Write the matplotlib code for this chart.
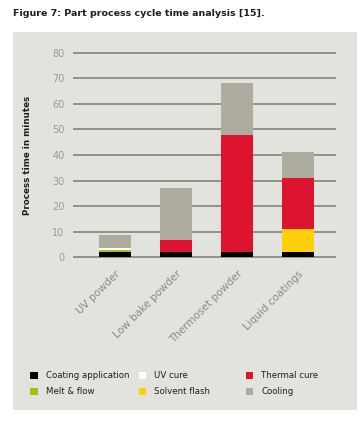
import matplotlib
matplotlib.use("Agg")
import matplotlib.pyplot as plt
from matplotlib.patches import Rectangle
import numpy as np

categories = ["UV powder", "Low bake powder", "Thermoset powder", "Liquid coatings"]
series_names = ["Coating application", "Melt & flow", "UV cure", "Solvent flash", "Thermal cure", "Cooling"]
coating_application = [2, 2, 2, 2]
melt_flow = [1, 0, 0, 0]
uv_cure = [0.6, 0, 0, 0]
solvent_flash = [0, 0, 0, 9]
thermal_cure = [0, 5, 46, 20]
cooling = [5, 20, 20, 10]
yticks = [0, 10, 20, 30, 40, 50, 60, 70, 80]

series_values = [coating_application, melt_flow, uv_cure, solvent_flash, thermal_cure, cooling]
colors = ["#000000", "#a9c012", "#ffffff", "#fdd00c", "#dc1430", "#adac9f"]

W, H = 364, 423
fig = plt.figure(figsize=(W / 100, H / 100), dpi=100)
fig.patch.set_facecolor("white")
fig.add_artist(Rectangle((13 / W, 1 - 410 / H), (357 - 13) / W, (410 - 32) / H,
                         transform=fig.transFigure, facecolor="#e3e3de", edgecolor="none", zorder=0))

fig.text(13 / W, 1 - 13 / H, "Figure 7: Part process cycle time analysis [15].",
         fontsize=6.8, fontweight="bold", color="#1e1e1e", va="center", ha="left")

ax = fig.add_axes([72.7 / W, 1 - 260.06 / H, 263.3 / W, 210.1 / H])
ax.set_facecolor("none")
x = np.arange(len(categories))
bottom = np.zeros(len(categories))
for name, vals, c in zip(series_names, series_values, colors):
    v = np.array(vals, dtype=float)
    ax.bar(x, v, width=0.54, bottom=bottom, color=c, edgecolor="none", zorder=3)
    bottom += v

ax.set_xlim(-0.693, 3.623)
ax.set_ylim(-1, 81)
ax.set_yticks(yticks)
ax.set_yticklabels([str(t) for t in yticks], color="#9a9a94", fontsize=7)
ax.tick_params(axis="y", length=0, pad=6)
ax.yaxis.grid(True, color="#84847c", linewidth=1.2, zorder=1)
ax.set_axisbelow(True)
for s in ax.spines.values():
    s.set_visible(False)
ax.set_xticks(x)
ax.set_xticklabels(categories, rotation=45, ha="right", va="top", rotation_mode="anchor",
                   color="#8a8a86", fontsize=7.5)
ax.tick_params(axis="x", length=0, pad=6)
ax.set_ylabel("Process time in minutes", fontsize=6.3, fontweight="bold", color="#1e1e1e")
ax.yaxis.set_label_coords(-0.155, 0.5)

# legend (manual layout)
leg_cols = [34, 142, 249]
leg_rows = [375, 391]
order = [(0, 0, 0), (1, 0, 1), (2, 1, 0), (3, 1, 1), (4, 2, 0), (5, 2, 1)]
for idx, col, row in order:
    cx, cy = leg_cols[col], leg_rows[row]
    fig.add_artist(Rectangle(((cx - 3.5) / W, 1 - (cy + 3.5) / H), 7 / W, 7 / H,
                             transform=fig.transFigure, facecolor=colors[idx], edgecolor="none"))
    fig.text((cx + 12) / W, 1 - cy / H, series_names[idx], fontsize=6.2, color="#1e1e1e",
             va="center", ha="left")

fig.savefig("out.png", dpi=100)
